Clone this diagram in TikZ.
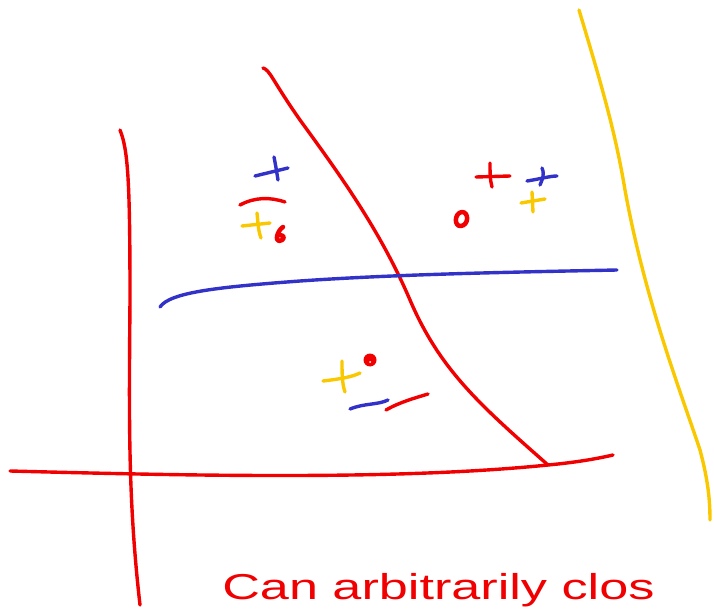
\documentclass[tikz,border=0pt]{standalone}
\usepackage{fontspec}
\setmainfont{Liberation Sans}
\definecolor{penred}{RGB}{240,0,0}
\definecolor{penblue}{RGB}{50,50,200}
\definecolor{penyellow}{RGB}{250,200,0}
\begin{document}
\begin{tikzpicture}[x=1pt,y=-1pt,
  pen/.style={line width=3.4pt,line cap=round,line join=round},
  rd/.style={pen,draw=penred},
  bl/.style={pen,draw=penblue},
  yl/.style={pen,draw=penyellow},
  blob/.style={rd,line width=4.5pt}]
\useasboundingbox (0,0) rectangle (714,609);
\clip (0,0) rectangle (714,609);
% yellow boundary
\draw[yl] (579,10) .. controls (600,80) and (615,130) .. (625,190)
  .. controls (645,300) and (680,390) .. (700,450) .. controls (708,480) and (710,500) .. (710,520);
% red left vertical
\draw[rd] (120,130) .. controls (128,150) and (130,180) .. (130,300)
  .. controls (129,420) and (128,500) .. (140,605);
% red diagonal
\draw[rd] (263,68) .. controls (270,70) and (272,80) .. (300,120)
  .. controls (340,175) and (380,230) .. (410,300)
  .. controls (440,370) and (480,405) .. (548,465);
% red bottom horizontal
\draw[rd] (10,471) .. controls (200,476) and (400,480) .. (548,465)
  .. controls (580,462) and (600,458) .. (613,455);
% blue horizontal
\draw[bl] (160,307) .. controls (170,292) and (220,287) .. (300,281)
  .. controls (400,274) and (520,272) .. (617,270);
% upper-left group
\draw[bl] (255,176) -- (288,168);
\draw[bl] (274,157) .. controls (276,167) and (277,174) .. (278,180);
\draw[rd] (240,205) .. controls (255,197) and (270,197) .. (285,202);
\draw[yl] (242,226) -- (270,223);
\draw[yl] (257,213) .. controls (258,222) and (258,230) .. (261,238);
\draw[blob] (283,227) .. controls (277,231) and (275,241) .. (279,241)
  .. controls (284,241) and (286,235) .. (280,235);
% upper-right group
\draw[rd] (476,177) -- (510,176);
\draw[rd] (490,163) .. controls (490,172) and (490,180) .. (492,187);
\draw[bl] (527,181) .. controls (540,179) and (550,176) .. (557,176);
\draw[bl] (542,168) .. controls (545,175) and (542,180) .. (540,185);
\draw[yl] (521,203) -- (545,199);
\draw[yl] (532,192) -- (533,212);
\draw[blob] (462,212) .. controls (454,213) and (454,227) .. (461,226)
  .. controls (469,225) and (469,212) .. (462,212);
% lower group
\draw[yl] (323,381) .. controls (340,379) and (352,377) .. (360,373);
\draw[yl] (342,361) .. controls (342,372) and (342,384) .. (345,392);
\fill[penred] (370,360) circle (6.5pt);
\fill[white] (370,362) circle (1pt);
\draw[bl] (350,409) .. controls (365,403) and (378,405) .. (388,400);
\draw[rd] (386,410) .. controls (400,402) and (415,398) .. (428,394);
% text
\node[anchor=base west,inner sep=0pt,text=penred,xscale=1.45,
  font=\fontsize{36}{36}\selectfont] (t) at (222,599) {Can arbitrarily clos};
\end{tikzpicture}
\end{document}
